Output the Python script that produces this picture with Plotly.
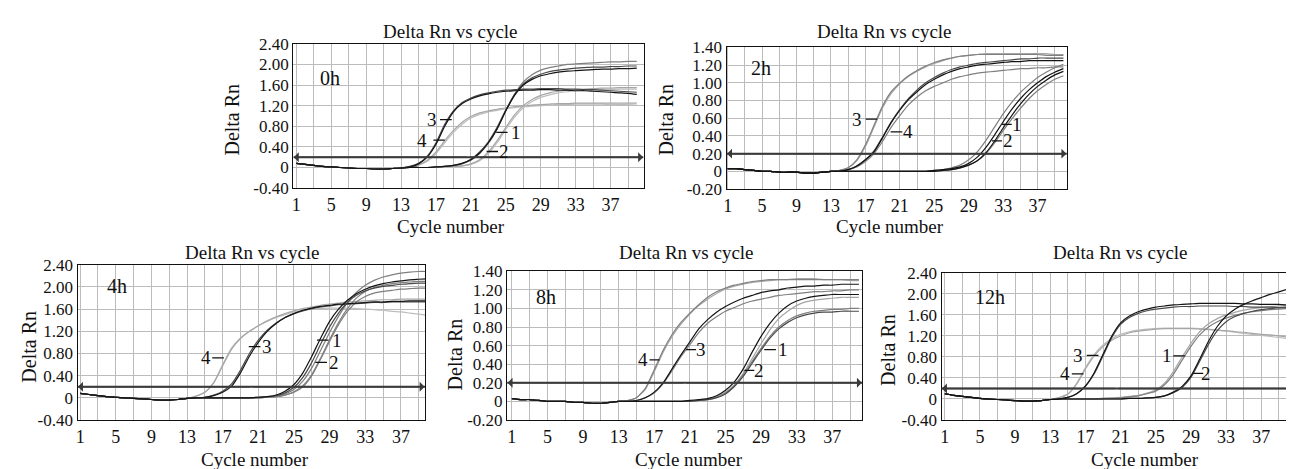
import plotly.graph_objects as go

W, H = 1294, 469
FONT = "Liberation Serif"

# ---------------- data ----------------
cycles = list(range(1, 41))
x_grid_vals = [1, 3, 5, 7, 9, 11, 13, 15, 17, 19, 21, 23, 25, 27, 29, 31, 33, 35, 37, 39]
x_grid_text = ["1", "", "5", "", "9", "", "13", "", "17", "", "21", "", "25", "", "29", "", "33", "", "37", ""]
y_wide_vals = [-0.4, 0.0, 0.4, 0.8, 1.2, 1.6, 2.0, 2.4]
y_wide_text = ["-0.40", "0", "0.40", "0.80", "1.20", "1.60", "2.00", "2.40"]
y_narrow_vals = [-0.2, 0.0, 0.2, 0.4, 0.6, 0.8, 1.0, 1.2, 1.4]
y_narrow_text = ["-0.20", "0", "0.20", "0.40", "0.60", "0.80", "1.00", "1.20", "1.40"]
threshold = 0.2

# 0h : baseline cycles 1-13, curves cycles 14-40
h0_base = [0.08, 0.06, 0.04, 0.02, 0.01, 0.00, -0.01, -0.02, -0.02, -0.03, -0.03, -0.02, -0.01]
h0_3a = [0.01, 0.07, 0.20, 0.45, 0.80, 1.08, 1.24, 1.33, 1.39, 1.43, 1.46, 1.48, 1.49, 1.50, 1.50, 1.51, 1.51, 1.50, 1.50, 1.49, 1.49, 1.48, 1.47, 1.46, 1.45, 1.44, 1.42]
h0_3b = [0.02, 0.08, 0.22, 0.48, 0.84, 1.10, 1.26, 1.35, 1.41, 1.45, 1.48, 1.50, 1.51, 1.52, 1.52, 1.53, 1.53, 1.53, 1.52, 1.52, 1.51, 1.51, 1.50, 1.49, 1.48, 1.47, 1.46]
h0_4a = [0.01, 0.05, 0.14, 0.30, 0.52, 0.72, 0.88, 0.99, 1.06, 1.10, 1.13, 1.16, 1.18, 1.20, 1.21, 1.22, 1.23, 1.24, 1.24, 1.25, 1.25, 1.25, 1.25, 1.25, 1.25, 1.25, 1.25]
h0_4b = [0.00, 0.04, 0.12, 0.27, 0.48, 0.68, 0.84, 0.96, 1.03, 1.08, 1.11, 1.14, 1.16, 1.18, 1.19, 1.20, 1.21, 1.22, 1.22, 1.23, 1.23, 1.23, 1.23, 1.22, 1.22, 1.22, 1.21]
h0_1a = [0.00, 0.00, 0.00, 0.01, 0.02, 0.04, 0.08, 0.15, 0.28, 0.48, 0.75, 1.10, 1.40, 1.60, 1.71, 1.78, 1.82, 1.85, 1.87, 1.88, 1.89, 1.90, 1.91, 1.91, 1.92, 1.92, 1.93]
h0_1b = [0.00, 0.00, 0.00, 0.01, 0.02, 0.04, 0.08, 0.16, 0.30, 0.50, 0.78, 1.12, 1.42, 1.62, 1.74, 1.81, 1.86, 1.89, 1.91, 1.93, 1.94, 1.95, 1.95, 1.96, 1.96, 1.97, 1.97]
h0_1c = [0.00, 0.00, 0.00, 0.01, 0.02, 0.03, 0.07, 0.14, 0.27, 0.47, 0.75, 1.10, 1.42, 1.66, 1.80, 1.89, 1.94, 1.97, 2.00, 2.01, 2.02, 2.03, 2.04, 2.05, 2.05, 2.06, 2.06]
h0_2a = [0.00, 0.00, 0.00, 0.00, 0.01, 0.02, 0.03, 0.07, 0.15, 0.30, 0.52, 0.78, 1.02, 1.20, 1.32, 1.40, 1.45, 1.48, 1.50, 1.51, 1.52, 1.53, 1.54, 1.54, 1.55, 1.55, 1.55]
h0_2b = [0.00, 0.00, 0.00, 0.00, 0.01, 0.02, 0.03, 0.06, 0.13, 0.27, 0.48, 0.74, 0.98, 1.16, 1.28, 1.36, 1.41, 1.45, 1.47, 1.49, 1.50, 1.50, 1.51, 1.51, 1.52, 1.52, 1.52]

# 2h
h2_base = [0.03, 0.03, 0.02, 0.01, 0.00, 0.00, -0.01, -0.01, -0.01, -0.02, -0.02, -0.01, 0.00]
h2_3a = [0.01, 0.04, 0.13, 0.30, 0.52, 0.74, 0.90, 1.00, 1.08, 1.14, 1.19, 1.23, 1.26, 1.28, 1.30, 1.31, 1.32, 1.32, 1.32, 1.32, 1.32, 1.32, 1.32, 1.32, 1.31, 1.31, 1.31]
h2_3b = [0.01, 0.04, 0.12, 0.28, 0.50, 0.72, 0.88, 0.99, 1.07, 1.13, 1.18, 1.22, 1.25, 1.28, 1.30, 1.31, 1.32, 1.33, 1.33, 1.33, 1.33, 1.33, 1.33, 1.33, 1.33, 1.32, 1.32]
h2_4a = [0.00, 0.02, 0.06, 0.13, 0.22, 0.38, 0.55, 0.69, 0.81, 0.90, 0.98, 1.04, 1.09, 1.13, 1.16, 1.18, 1.20, 1.21, 1.22, 1.23, 1.24, 1.24, 1.25, 1.25, 1.25, 1.25, 1.25]
h2_4b = [0.00, 0.02, 0.06, 0.13, 0.23, 0.39, 0.56, 0.70, 0.82, 0.92, 1.00, 1.06, 1.11, 1.15, 1.18, 1.20, 1.22, 1.23, 1.24, 1.25, 1.26, 1.27, 1.27, 1.28, 1.28, 1.28, 1.28]
h2_4c = [0.00, 0.02, 0.05, 0.11, 0.20, 0.34, 0.50, 0.63, 0.75, 0.84, 0.91, 0.96, 1.00, 1.04, 1.07, 1.09, 1.11, 1.12, 1.13, 1.14, 1.15, 1.16, 1.16, 1.17, 1.17, 1.18, 1.18]
h2_1a = [0.00, 0.00, 0.00, 0.00, 0.00, 0.00, 0.00, 0.00, 0.00, 0.00, 0.00, 0.01, 0.02, 0.03, 0.05, 0.09, 0.16, 0.27, 0.41, 0.56, 0.70, 0.82, 0.92, 1.00, 1.07, 1.12, 1.16]
h2_1b = [0.00, 0.00, 0.00, 0.00, 0.00, 0.00, 0.00, 0.00, 0.00, 0.00, 0.00, 0.01, 0.02, 0.04, 0.07, 0.13, 0.22, 0.35, 0.50, 0.65, 0.78, 0.89, 0.98, 1.06, 1.12, 1.17, 1.21]
h2_2a = [0.00, 0.00, 0.00, 0.00, 0.00, 0.00, 0.00, 0.00, 0.00, 0.00, 0.00, 0.00, 0.01, 0.02, 0.04, 0.07, 0.12, 0.21, 0.34, 0.49, 0.63, 0.76, 0.87, 0.96, 1.03, 1.09, 1.13]
h2_2b = [0.00, 0.00, 0.00, 0.00, 0.00, 0.00, 0.00, 0.00, 0.00, 0.00, 0.00, 0.00, 0.01, 0.02, 0.04, 0.07, 0.12, 0.20, 0.32, 0.46, 0.59, 0.71, 0.82, 0.91, 0.98, 1.04, 1.08]

# 4h
h4_base = [0.08, 0.06, 0.04, 0.02, 0.01, 0.00, -0.01, -0.02, -0.03, -0.04, -0.04, -0.03, -0.01]
h4_4a = [0.03, 0.10, 0.28, 0.60, 0.90, 1.08, 1.20, 1.30, 1.38, 1.45, 1.50, 1.55, 1.58, 1.60, 1.61, 1.62, 1.62, 1.62, 1.61, 1.60, 1.59, 1.58, 1.56, 1.55, 1.53, 1.51, 1.49]
h4_4b = [0.03, 0.10, 0.27, 0.58, 0.88, 1.07, 1.20, 1.30, 1.39, 1.46, 1.52, 1.57, 1.61, 1.64, 1.67, 1.69, 1.71, 1.73, 1.74, 1.75, 1.76, 1.77, 1.77, 1.78, 1.78, 1.78, 1.78]
h4_3a = [0.00, 0.01, 0.04, 0.10, 0.21, 0.45, 0.75, 1.00, 1.20, 1.34, 1.45, 1.52, 1.58, 1.62, 1.65, 1.67, 1.69, 1.70, 1.71, 1.72, 1.73, 1.73, 1.74, 1.74, 1.75, 1.75, 1.75]
h4_3b = [0.00, 0.01, 0.05, 0.12, 0.25, 0.50, 0.80, 1.04, 1.22, 1.35, 1.45, 1.52, 1.57, 1.61, 1.64, 1.66, 1.68, 1.69, 1.70, 1.71, 1.72, 1.72, 1.73, 1.73, 1.73, 1.73, 1.73]
h4_1a = [0.00, 0.00, 0.00, 0.00, 0.00, 0.00, 0.00, 0.01, 0.02, 0.05, 0.12, 0.24, 0.45, 0.75, 1.08, 1.38, 1.60, 1.76, 1.88, 1.96, 2.02, 2.06, 2.09, 2.11, 2.13, 2.14, 2.15]
h4_1b = [0.00, 0.00, 0.00, 0.00, 0.00, 0.00, 0.00, 0.01, 0.02, 0.04, 0.09, 0.19, 0.37, 0.64, 0.97, 1.28, 1.53, 1.72, 1.85, 1.93, 1.98, 2.01, 2.03, 2.05, 2.06, 2.07, 2.07]
h4_1c = [0.00, 0.00, 0.00, 0.00, 0.00, 0.00, 0.00, 0.00, 0.01, 0.03, 0.07, 0.15, 0.30, 0.54, 0.86, 1.18, 1.47, 1.72, 1.90, 2.03, 2.12, 2.18, 2.22, 2.25, 2.27, 2.28, 2.28]
h4_2a = [0.00, 0.00, 0.00, 0.00, 0.00, 0.00, 0.00, 0.00, 0.01, 0.02, 0.05, 0.11, 0.22, 0.42, 0.72, 1.05, 1.36, 1.61, 1.80, 1.92, 1.99, 2.03, 2.06, 2.08, 2.09, 2.10, 2.10]
h4_2b = [0.00, 0.00, 0.00, 0.00, 0.00, 0.00, 0.00, 0.00, 0.01, 0.02, 0.05, 0.10, 0.20, 0.40, 0.70, 1.02, 1.32, 1.56, 1.73, 1.83, 1.89, 1.92, 1.94, 1.96, 1.97, 1.98, 1.98]

# 8h
h8_base = [0.03, 0.02, 0.02, 0.01, 0.00, 0.00, 0.00, -0.01, -0.01, -0.02, -0.02, -0.01, 0.00]
h8_4a = [0.01, 0.04, 0.14, 0.34, 0.55, 0.72, 0.85, 0.95, 1.04, 1.12, 1.18, 1.22, 1.25, 1.27, 1.29, 1.30, 1.31, 1.31, 1.31, 1.31, 1.31, 1.31, 1.31, 1.31, 1.31, 1.31, 1.31]
h8_4b = [0.01, 0.04, 0.13, 0.32, 0.53, 0.70, 0.83, 0.94, 1.03, 1.10, 1.16, 1.21, 1.24, 1.26, 1.28, 1.29, 1.30, 1.31, 1.31, 1.32, 1.32, 1.32, 1.31, 1.31, 1.31, 1.30, 1.30]
h8_3a = [0.00, 0.01, 0.04, 0.10, 0.20, 0.35, 0.50, 0.64, 0.78, 0.88, 0.96, 1.02, 1.07, 1.11, 1.14, 1.17, 1.19, 1.20, 1.22, 1.23, 1.24, 1.24, 1.25, 1.25, 1.26, 1.26, 1.26]
h8_3b = [0.00, 0.01, 0.04, 0.09, 0.19, 0.33, 0.48, 0.61, 0.74, 0.84, 0.91, 0.97, 1.01, 1.05, 1.08, 1.10, 1.12, 1.14, 1.15, 1.16, 1.17, 1.18, 1.18, 1.19, 1.19, 1.20, 1.20]
h8_1a = [0.00, 0.00, 0.00, 0.00, 0.00, 0.00, 0.00, 0.01, 0.02, 0.03, 0.06, 0.12, 0.21, 0.35, 0.53, 0.70, 0.84, 0.95, 1.03, 1.08, 1.11, 1.13, 1.14, 1.15, 1.15, 1.15, 1.15]
h8_1b = [0.00, 0.00, 0.00, 0.00, 0.00, 0.00, 0.00, 0.00, 0.01, 0.03, 0.05, 0.10, 0.18, 0.30, 0.46, 0.62, 0.77, 0.89, 0.97, 1.03, 1.07, 1.09, 1.10, 1.11, 1.12, 1.12, 1.12]
h8_2a = [0.00, 0.00, 0.00, 0.00, 0.00, 0.00, 0.00, 0.00, 0.01, 0.02, 0.04, 0.09, 0.17, 0.29, 0.43, 0.57, 0.70, 0.80, 0.87, 0.92, 0.95, 0.97, 0.98, 0.99, 0.99, 1.00, 1.00]
h8_2b = [0.00, 0.00, 0.00, 0.00, 0.00, 0.00, 0.00, 0.00, 0.01, 0.02, 0.04, 0.08, 0.16, 0.27, 0.41, 0.55, 0.68, 0.78, 0.85, 0.90, 0.93, 0.95, 0.96, 0.96, 0.97, 0.97, 0.97]

# 12h
h12_base = [0.10, 0.07, 0.05, 0.03, 0.01, 0.00, -0.01, -0.02, -0.03, -0.04, -0.04, -0.03, -0.01]
h12_3a = [0.00, 0.03, 0.10, 0.25, 0.50, 0.85, 1.20, 1.45, 1.58, 1.66, 1.71, 1.75, 1.77, 1.79, 1.80, 1.81, 1.82, 1.82, 1.82, 1.82, 1.82, 1.81, 1.81, 1.80, 1.80, 1.80, 1.79]
h12_3b = [0.00, 0.03, 0.10, 0.24, 0.48, 0.82, 1.17, 1.42, 1.55, 1.63, 1.68, 1.71, 1.73, 1.75, 1.76, 1.76, 1.77, 1.77, 1.77, 1.77, 1.76, 1.76, 1.75, 1.75, 1.75, 1.74, 1.74]
h12_4a = [0.03, 0.10, 0.30, 0.60, 0.85, 1.03, 1.15, 1.23, 1.28, 1.31, 1.33, 1.34, 1.35, 1.35, 1.35, 1.35, 1.34, 1.33, 1.31, 1.29, 1.27, 1.25, 1.23, 1.21, 1.19, 1.17, 1.15]
h12_4b = [0.02, 0.09, 0.28, 0.57, 0.82, 1.00, 1.12, 1.20, 1.26, 1.29, 1.31, 1.33, 1.34, 1.34, 1.34, 1.34, 1.33, 1.32, 1.31, 1.30, 1.28, 1.27, 1.25, 1.23, 1.22, 1.20, 1.18]
h12_1a = [0.00, 0.00, 0.00, 0.00, 0.00, 0.01, 0.02, 0.03, 0.05, 0.07, 0.11, 0.17, 0.30, 0.52, 0.80, 1.06, 1.28, 1.43, 1.53, 1.60, 1.65, 1.69, 1.72, 1.74, 1.76, 1.77, 1.78]
h12_1b = [0.00, 0.00, 0.00, 0.00, 0.00, 0.01, 0.01, 0.02, 0.04, 0.06, 0.10, 0.15, 0.27, 0.47, 0.74, 1.00, 1.22, 1.37, 1.47, 1.54, 1.59, 1.63, 1.66, 1.68, 1.70, 1.71, 1.72]
h12_2a = [0.00, 0.00, 0.00, 0.00, 0.00, 0.00, 0.00, 0.00, 0.01, 0.01, 0.02, 0.03, 0.06, 0.13, 0.24, 0.44, 0.76, 1.10, 1.38, 1.58, 1.71, 1.80, 1.87, 1.93, 1.99, 2.04, 2.09]
h12_2b = [0.00, 0.00, 0.00, 0.00, 0.00, 0.00, 0.00, 0.00, 0.01, 0.01, 0.02, 0.03, 0.06, 0.12, 0.22, 0.41, 0.72, 1.04, 1.30, 1.47, 1.57, 1.63, 1.67, 1.70, 1.72, 1.74, 1.75]

panel_tags = ["0h", "2h", "4h", "8h", "12h"]

# ---------------- styles / layout ----------------
BLACK, DARK, MID, LIGHT, PALE = "#141414", "#4a4a4a", "#7f7f7f", "#a6a6a6", "#bdbdbd"

panels = [
    dict(base=h0_base, frame=(283, 634, 28, 178.3), xr=(0.66, 40.77), wide=True,
         curves=[(h0_4b, PALE), (h0_4a, LIGHT), (h0_2b, PALE), (h0_2a, LIGHT), (h0_1c, MID),
                 (h0_3b, DARK), (h0_3a, BLACK), (h0_1b, DARK), (h0_1a, BLACK)],
         labels=[("3", 16.5, 0.93, 17.46, 18.8), ("4", 15.4, 0.53, 16.7, 18.0),
                 ("1", 26.2, 0.68, 23.9, 25.2), ("2", 24.8, 0.31, 22.8, 24.1)],
         tag=(4.9, 1.74), title=(440.8, 15), xt=(440.7, 218.5), yt=(221.7, 106.7)),
    dict(base=h2_base, frame=(717.3, 1058.3, 31.7, 179.3), xr=(0.88, 40.4), wide=False,
         curves=[(h2_3b, LIGHT), (h2_3a, MID), (h2_4c, MID), (h2_2b, MID), (h2_1b, MID),
                 (h2_4b, DARK), (h2_4a, BLACK), (h2_2a, BLACK), (h2_1a, BLACK)],
         labels=[("3", 16.06, 0.59, 17.04, 18.38), ("4", 21.94, 0.445, 19.93, 21.28),
                 ("1", 34.6, 0.53, 32.87, 34.0), ("2", 33.56, 0.345, 31.7, 32.87)],
         tag=(4.87, 1.167), title=(875.3, 15), xt=(880.7, 218.5), yt=(656.7, 106.7)),
    dict(base=h4_base, frame=(66.7, 415, 258.3, 420), xr=(0.71, 39.71), wide=True,
         curves=[(h4_4a, PALE), (h4_4b, LIGHT), (h4_2b, MID), (h4_1c, MID), (h4_2a, MID),
                 (h4_3b, DARK), (h4_3a, BLACK), (h4_1b, DARK), (h4_1a, BLACK)],
         labels=[("4", 15.08, 0.72, 15.83, 17.13), ("3", 21.98, 0.923, 19.93, 21.24),
                 ("1", 29.82, 1.04, 27.58, 28.88), ("2", 29.44, 0.64, 27.39, 28.7)],
         tag=(5.19, 2.02), title=(242.5, 245), xt=(245, 461), yt=(18.3, 343.3)),
    dict(base=h8_base, frame=(497.3, 853.3, 265, 420), xr=(0.47, 40.38), wide=False,
         curves=[(h8_4b, LIGHT), (h8_4a, MID), (h8_3b, MID), (h8_1b, LIGHT), (h8_2a, MID),
                 (h8_3a, BLACK), (h8_2b, DARK), (h8_1a, BLACK)],
         labels=[("4", 15.72, 0.447, 16.47, 17.59), ("3", 22.27, 0.557, 20.58, 21.7),
                 ("1", 31.42, 0.557, 29.36, 30.67), ("2", 28.8, 0.333, 27.12, 28.24)],
         tag=(4.89, 1.124), title=(677.5, 245), xt=(680, 461), yt=(445, 351.7)),
    dict(base=h12_base, frame=(932.7, 1284, 266.7, 420), xr=(0.63, 40.5), wide=True,
         curves=[(h12_4a, PALE), (h12_4b, LIGHT), (h12_1a, LIGHT), (h12_1b, MID),
                 (h12_2b, DARK), (h12_3b, DARK), (h12_3a, BLACK), (h12_2a, BLACK)],
         labels=[("3", 16.21, 0.83, 17.15, 18.48), ("4", 14.7, 0.476, 15.45, 16.78),
                 ("1", 26.23, 0.82, 26.99, 28.32), ("2", 30.77, 0.486, 29.26, 30.4)],
         tag=(6.19, 1.945), title=(1111.7, 245), xt=(1136.7, 461), yt=(878.3, 346.7)),
]

fig = go.Figure()
annotations = []
shapes = []
layout = {}

def px(x):
    return x / W

def py(y):
    return 1 - y / H

for k, p in enumerate(panels, start=1):
    xa = "x" if k == 1 else f"x{k}"
    ya = "y" if k == 1 else f"y{k}"
    x0, x1, yt0, yb0 = p["frame"]
    yr = (-0.4, 2.4) if p["wide"] else (-0.2, 1.4)
    yv = y_wide_vals if p["wide"] else y_narrow_vals
    ytx = y_wide_text if p["wide"] else y_narrow_text

    for vals, col in p["curves"]:
        fig.add_trace(go.Scatter(
            x=cycles, y=p["base"] + vals, mode="lines",
            line=dict(color=col, width=1.2, shape="spline", smoothing=0.6),
            xaxis=xa, yaxis=ya, showlegend=False, hoverinfo="skip"))

    axis_common = dict(showline=True, linecolor="#111111", linewidth=1.3, mirror=True,
                       showgrid=True, gridcolor="#bcbcbc", gridwidth=1, zeroline=False,
                       ticks="", fixedrange=True)
    layout["xaxis" if k == 1 else f"xaxis{k}"] = dict(
        domain=[px(x0), px(x1)], range=list(p["xr"]), anchor=ya,
        tickfont=dict(family=FONT, size=18, color="#111111"),
        tickmode="array", tickvals=x_grid_vals, ticktext=x_grid_text, **axis_common)
    layout["yaxis" if k == 1 else f"yaxis{k}"] = dict(
        domain=[py(yb0), py(yt0)], range=list(yr), anchor=xa,
        tickfont=dict(family=FONT, size=17, color="#111111"),
        tickmode="array", tickvals=yv, ticktext=ytx, **axis_common)

    # threshold line with arrow heads
    shapes.append(dict(type="line", xref=xa, yref=ya, x0=p["xr"][0], x1=p["xr"][1],
                       y0=threshold, y1=threshold, line=dict(color="#3a3a3a", width=2)))
    mid = (p["xr"][0] + p["xr"][1]) / 2
    for end in (p["xr"][0] + 0.05, p["xr"][1] - 0.05):
        annotations.append(dict(x=end, y=threshold, ax=mid, ay=threshold, xref=xa, yref=ya,
                                axref=xa, ayref=ya, showarrow=True, arrowhead=1,
                                arrowsize=1.1, arrowwidth=1.5, arrowcolor="#3a3a3a", text=""))

    # curve group labels
    for txt, tx, ty, d0, d1 in p["labels"]:
        shapes.append(dict(type="line", xref=xa, yref=ya, x0=d0, x1=d1, y0=ty, y1=ty,
                           line=dict(color="#111111", width=1.3)))
        annotations.append(dict(x=tx, y=ty, xref=xa, yref=ya, text=txt, showarrow=False,
                                xanchor="center", yanchor="middle", borderpad=0,
                                font=dict(family=FONT, size=19, color="#111111")))
    annotations.append(dict(x=p["tag"][0], y=p["tag"][1], xref=xa, yref=ya,
                            text=panel_tags[k - 1], showarrow=False,
                            xanchor="center", yanchor="middle",
                            font=dict(family=FONT, size=20, color="#111111")))

    # titles
    annotations.append(dict(x=px(p["title"][0]), y=py(p["title"][1]), xref="paper", yref="paper",
                            text="Delta Rn vs cycle", showarrow=False, xanchor="center",
                            yanchor="middle", font=dict(family=FONT, size=19, color="#111111")))
    annotations.append(dict(x=px(p["xt"][0]), y=py(p["xt"][1]), xref="paper", yref="paper",
                            text="Cycle number", showarrow=False, xanchor="center",
                            yanchor="middle", borderpad=0,
                            font=dict(family=FONT, size=19, color="#111111")))
    annotations.append(dict(x=px(p["yt"][0]), y=py(p["yt"][1]), xref="paper", yref="paper",
                            text="Delta Rn", showarrow=False, xanchor="center", textangle=-90,
                            yanchor="middle", borderpad=0,
                            font=dict(family=FONT, size=20, color="#111111")))

fig.update_layout(
    width=W, height=H, margin=dict(l=0, r=0, t=0, b=0),
    paper_bgcolor="white", plot_bgcolor="white",
    annotations=annotations, shapes=shapes, **layout)

fig.write_html("out.html", config={"displayModeBar": False})
